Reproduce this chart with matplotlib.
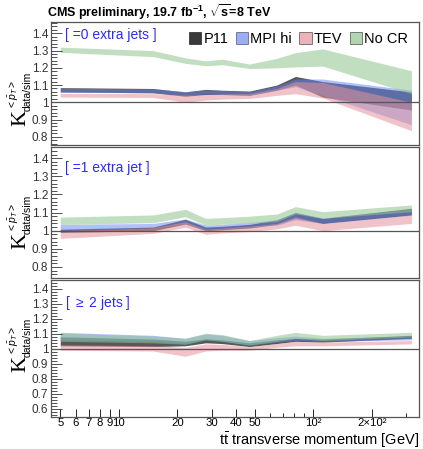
import matplotlib
matplotlib.use("Agg")
import matplotlib.pyplot as plt
from matplotlib.patches import Patch
from matplotlib.ticker import FixedLocator, FixedFormatter, MultipleLocator, FormatStrFormatter

plt.rcParams["font.family"] = ["Liberation Sans", "DejaVu Sans"]
plt.rcParams["mathtext.fontset"] = "custom"
plt.rcParams["mathtext.rm"] = "Liberation Sans"
plt.rcParams["mathtext.it"] = "Liberation Sans:italic"
plt.rcParams["mathtext.bf"] = "Liberation Sans:bold"

# ------------------------------
# data: tt pT points and band edges per model, per jet bin
pt = [5, 15, 22, 28, 34, 47, 65, 81, 112, 320]

models = ["P11", "MPI hi", "TEV", "No CR"]
colors = {"P11": "#2e2e2e", "MPI hi": "#6482f2", "TEV": "#e3939c", "No CR": "#8fc48f"}
alphas = {"P11": 0.8, "MPI hi": 0.5, "TEV": 0.55, "No CR": 0.55}

jet0_p11_lo = [1.060, 1.055, 1.035, 1.045, 1.045, 1.040, 1.070, 1.100, 1.030, 0.955]
jet0_p11_hi = [1.085, 1.080, 1.060, 1.075, 1.070, 1.065, 1.100, 1.150, 1.120, 1.060]
jet0_mpi_lo = [1.058, 1.055, 1.040, 1.048, 1.046, 1.042, 1.070, 1.090, 1.040, 0.870]
jet0_mpi_hi = [1.082, 1.078, 1.062, 1.072, 1.068, 1.062, 1.095, 1.135, 1.135, 1.070]
jet0_tev_lo = [1.030, 1.028, 1.000, 1.013, 1.018, 1.022, 1.040, 1.050, 1.025, 0.835]
jet0_tev_hi = [1.052, 1.050, 1.042, 1.045, 1.048, 1.050, 1.080, 1.120, 1.115, 1.000]
jet0_nocr_lo = [1.290, 1.265, 1.226, 1.212, 1.218, 1.196, 1.200, 1.205, 1.210, 1.050]
jet0_nocr_hi = [1.320, 1.300, 1.258, 1.240, 1.250, 1.222, 1.255, 1.288, 1.310, 1.183]

jet1_p11_lo = [0.990, 1.000, 1.037, 1.000, 1.005, 1.015, 1.035, 1.068, 1.040, 1.087]
jet1_p11_hi = [1.008, 1.020, 1.063, 1.020, 1.024, 1.035, 1.060, 1.100, 1.068, 1.124]
jet1_mpi_lo = [1.000, 1.017, 1.040, 1.004, 1.010, 1.020, 1.030, 1.060, 1.040, 1.085]
jet1_mpi_hi = [1.035, 1.040, 1.065, 1.031, 1.035, 1.045, 1.060, 1.100, 1.070, 1.120]
jet1_tev_lo = [0.958, 0.985, 1.019, 0.980, 0.988, 0.995, 1.010, 1.030, 1.000, 1.040]
jet1_tev_hi = [1.000, 1.017, 1.050, 1.008, 1.015, 1.025, 1.040, 1.077, 1.040, 1.087]
jet1_nocr_lo = [1.035, 1.044, 1.077, 1.031, 1.036, 1.042, 1.050, 1.092, 1.068, 1.105]
jet1_nocr_hi = [1.075, 1.087, 1.118, 1.068, 1.072, 1.080, 1.092, 1.133, 1.105, 1.142]

jet2_p11_lo = [1.020, 1.015, 1.020, 1.040, 1.035, 1.015, 1.035, 1.050, 1.045, 1.070]
jet2_p11_hi = [1.080, 1.065, 1.050, 1.067, 1.060, 1.040, 1.060, 1.070, 1.065, 1.090]
jet2_mpi_lo = [1.060, 1.050, 1.035, 1.060, 1.050, 1.025, 1.045, 1.055, 1.050, 1.060]
jet2_mpi_hi = [1.110, 1.090, 1.070, 1.100, 1.090, 1.055, 1.075, 1.085, 1.070, 1.085]
jet2_tev_lo = [0.990, 0.985, 0.950, 0.985, 0.990, 0.990, 1.010, 1.020, 1.020, 1.033]
jet2_tev_hi = [1.027, 1.020, 1.010, 1.033, 1.030, 1.015, 1.035, 1.050, 1.045, 1.055]
jet2_nocr_lo = [1.050, 1.040, 1.030, 1.060, 1.050, 1.025, 1.050, 1.070, 1.055, 1.080]
jet2_nocr_hi = [1.105, 1.085, 1.070, 1.104, 1.095, 1.055, 1.090, 1.110, 1.090, 1.110]

panels = [
    ("[ =0 extra jets ]", (0.752, 1.466), {
        "P11": (jet0_p11_lo, jet0_p11_hi), "MPI hi": (jet0_mpi_lo, jet0_mpi_hi),
        "TEV": (jet0_tev_lo, jet0_tev_hi), "No CR": (jet0_nocr_lo, jet0_nocr_hi)}),
    ("[ =1 extra jet ]", (0.739, 1.462), {
        "P11": (jet1_p11_lo, jet1_p11_hi), "MPI hi": (jet1_mpi_lo, jet1_mpi_hi),
        "TEV": (jet1_tev_lo, jet1_tev_hi), "No CR": (jet1_nocr_lo, jet1_nocr_hi)}),
    ("[ $\\geq$ 2 jets ]", (0.544, 1.460), {
        "P11": (jet2_p11_lo, jet2_p11_hi), "MPI hi": (jet2_mpi_lo, jet2_mpi_hi),
        "TEV": (jet2_tev_lo, jet2_tev_hi), "No CR": (jet2_nocr_lo, jet2_nocr_hi)}),
]

# ------------------------------
# layout, in pixels of the 423x449 canvas
W, H = 423, 449
left, right = 51 / W, 419 / W
rows = [(22, 145), (147, 278), (280, 417)]
label_pos = [0.894, 0.84, 0.832]  # panel tag height, axes fraction
k_center = [118, 241, 364]        # y pixel of the "K" in the y title

fig = plt.figure(figsize=(W / 100, H / 100), dpi=100)


def fy(py):
    return 1 - py / H


xmajor = [5, 6, 7, 8, 9, 10, 20, 30, 40, 50, 100, 200]
xlabels = ["5", "6", "7", "8", "9", "10", "20", "30", "40", "50",
           "10\u00b2", "2\u00d710\u00b2"]
xminor = [60, 70, 80, 90, 300]

axes = []
for i, ((top, bot), (label, ylim, bands)) in enumerate(zip(rows, panels)):
    ax = fig.add_axes([left, fy(bot), right - left, (bot - top) / H])
    for m in models:
        lo, hi = bands[m]
        ax.fill_between(pt, lo, hi, color=colors[m], alpha=alphas[m], linewidth=0)
    ax.axhline(1.0, color="#555555", lw=0.9)
    ax.set_xscale("log")
    ax.set_xlim(4.48, 350)
    ax.set_ylim(*ylim)
    ax.yaxis.set_major_locator(MultipleLocator(0.1))
    ax.yaxis.set_minor_locator(MultipleLocator(0.02))
    ax.yaxis.set_major_formatter(FormatStrFormatter("%g"))
    ax.tick_params(axis="y", which="major", direction="in", length=8,
                   width=0.6, labelsize=8.5, pad=2, colors="#333333")
    ax.tick_params(axis="y", which="minor", direction="in", length=4,
                   width=0.6, colors="#333333")
    for s in ax.spines.values():
        s.set_color("#555555")
        s.set_linewidth(0.9)
    ax.text(0.038, label_pos[i], label, transform=ax.transAxes,
            color="#2a2aff", fontsize=10, va="center", ha="left")
    if i < 2:
        ax.xaxis.set_major_locator(FixedLocator([]))
        ax.xaxis.set_minor_locator(FixedLocator([]))
    else:
        ax.xaxis.set_major_locator(FixedLocator(xmajor))
        ax.xaxis.set_major_formatter(FixedFormatter(xlabels))
        ax.xaxis.set_minor_locator(FixedLocator(xminor))
        ax.tick_params(axis="x", which="major", direction="in", length=6,
                       width=0.6, labelsize=8.2, pad=1)
        ax.tick_params(axis="x", which="minor", direction="in", length=3,
                       width=0.6)

    # y title built from pieces: big serif K, small super/subscripts
    kc = k_center[i]
    fig.text(30 / W, fy(kc), "K", rotation=90, fontsize=16,
             family="Liberation Serif", ha="right", va="center")
    fig.text(33 / W, fy(kc - 7), "data/sim", rotation=90, fontsize=7.5,
             ha="right", va="bottom")
    fig.text(21 / W, fy(kc - 9), "$<\\bar{p}_{T}>$", rotation=90, fontsize=7.5,
             ha="right", va="bottom")
    axes.append(ax)

handles = [Patch(facecolor=colors[m], alpha=alphas[m] + 0.15,
                 edgecolor="#333333", linewidth=0.6) for m in models]
axes[0].legend(handles, models, loc="upper right", ncol=4, frameon=False,
               fontsize=10.5, handlelength=0.85, handleheight=0.85,
               handletextpad=0.15, columnspacing=0.5, borderaxespad=0.2,
               bbox_to_anchor=(0.995, 0.99))

fig.text(47 / W, fy(12),
         "CMS preliminary, 19.7 fb$^{\\mathbf{-1}}$, $\\sqrt{\\mathbf{s}}$=8 TeV",
         fontsize=9, fontweight="bold", va="center", ha="left")
fig.text(right, fy(445),
         "t$\\bar{\\mathrm{t}}$ transverse momentum [GeV]",
         fontsize=10.5, ha="right", va="baseline")

fig.savefig("out.png", dpi=100)
